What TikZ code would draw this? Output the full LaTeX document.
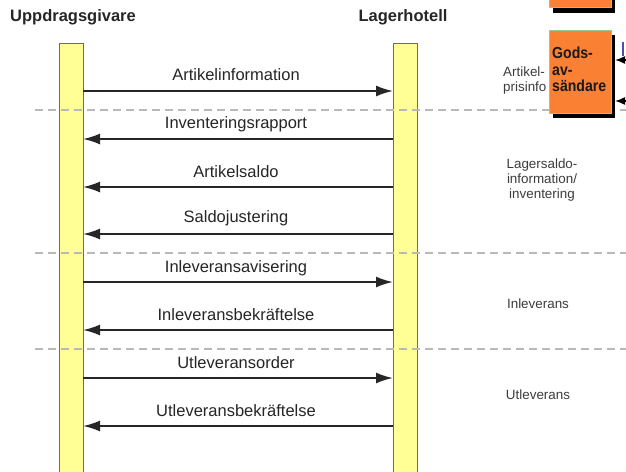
\documentclass[tikz,border=0pt]{standalone}
\usepackage{fontspec}
\setmainfont{Liberation Sans}
\newfontfamily\narrowbold[FakeStretch=0.88]{Liberation Sans Bold}
\usetikzlibrary{arrows.meta}
\definecolor{baryellow}{RGB}{255,255,150}
\definecolor{barborder}{RGB}{110,110,80}
\definecolor{dashgray}{RGB}{185,185,185}
\definecolor{boxorange}{RGB}{250,128,52}
\definecolor{boxborder}{RGB}{150,200,150}
\definecolor{labelgray}{RGB}{60,60,60}
\tikzset{
  lifebar/.style={draw=barborder, line width=0.8pt, fill=baryellow},
  msg/.style={line width=2pt, draw=black!85, -{Latex[length=17pt,width=11pt]}},
  msglabel/.style={font=\fontsize{16.5}{18}\selectfont, text=black!85, inner sep=0pt},
  header/.style={font=\bfseries\fontsize{16.5}{18}\selectfont, text=black!85, inner sep=0pt},
  phase/.style={font=\fontsize{13.4}{15}\selectfont, text=labelgray, align=center, inner sep=0pt},
  sep/.style={draw=dashgray, line width=1.6pt, dash pattern=on 8pt off 5pt},
  actor/.style={draw=boxborder, line width=0.8pt, fill=boxorange},
  shadowbox/.style={fill=black},
  inarrow/.style={line width=1.5pt, draw=black, -{Latex[length=10pt,width=8pt]}},
  actortext/.style={font=\narrowbold\fontsize{16}{16.5}\selectfont, text=black!90, align=left, anchor=north west, inner sep=0pt}
}
\begin{document}
\begin{tikzpicture}[x=1pt,y=-1pt]
\useasboundingbox (0,0) rectangle (626,471);
\fill[white] (0,0) rectangle (626,471);

% headers
\node[header] (hU) at (73,17) {Uppdragsgivare};
\node[header] (hL) at (403,17) {Lagerhotell};

% lifelines
\draw[lifebar] (59,43) rectangle (83,475);
\draw[lifebar] (393,43) rectangle (417,475);
\coordinate (L91) at (83,91);   \coordinate (R91) at (393,91);
\coordinate (L139) at (83,139); \coordinate (R139) at (393,139);
\coordinate (L187) at (83,187); \coordinate (R187) at (393,187);
\coordinate (L234) at (83,234); \coordinate (R234) at (393,234);
\coordinate (L282) at (83,282); \coordinate (R282) at (393,282);
\coordinate (L330) at (83,330); \coordinate (R330) at (393,330);
\coordinate (L378) at (83,378); \coordinate (R378) at (393,378);
\coordinate (L426) at (83,426); \coordinate (R426) at (393,426);

% separators
\coordinate (s1a) at (35,110); \coordinate (s1b) at (630,110);
\coordinate (s2a) at (35,253); \coordinate (s2b) at (630,253);
\coordinate (s3a) at (35,349); \coordinate (s3b) at (630,349);
\draw[sep] (s1a) -- (s1b);
\draw[sep] (s2a) -- (s2b);
\draw[sep] (s3a) -- (s3b);

% messages
\draw[msg] (L91) -- (R91);
\node[msglabel] (m1) at (236,75) {Artikelinformation};
\draw[msg] (R139) -- (L139);
\node[msglabel] (m2) at (236,124) {Inventeringsrapport};
\draw[msg] (R187) -- (L187);
\node[msglabel] (m3) at (236,172) {Artikelsaldo};
\draw[msg] (R234) -- (L234);
\node[msglabel] (m4) at (236,218) {Saldojustering};
\draw[msg] (L282) -- (R282);
\node[msglabel] (m5) at (236,268) {Inleveransavisering};
\draw[msg] (R330) -- (L330);
\node[msglabel] (m6) at (236,315) {Inleveransbekräftelse};
\draw[msg] (L378) -- (R378);
\node[msglabel] (m7) at (236,363) {Utleveransorder};
\draw[msg] (R426) -- (L426);
\node[msglabel] (m8) at (236,411) {Utleveransbekräftelse};

% phase labels
\node[phase, align=left, anchor=north west] (p1) at (503,67) {Artikel-\\prisinfo};
\node[phase] (p2) at (542,180) {Lagersaldo-\\information/\\inventering};
\node[phase] (p3) at (538,304) {Inleverans};
\node[phase] (p4) at (538,395) {Utleverans};

% top orange box (cut off)
\fill[shadowbox] (553,-10) rectangle (615,13);
\draw[actor] (549,-10) rectangle (611,7);

% Gods-avsaendare box
\fill[shadowbox] (553,35) rectangle (615,118);
\draw[actor] (549,30) rectangle (611,113);
\node[actortext] (gods) at (552,47) {Gods-\\av-\\sändare};

% incoming arrows on the right edge
\coordinate (in1) at (640,60);
\coordinate (in2) at (640,101);
\draw[inarrow] (in1) -- (615,60);
\draw[inarrow] (in2) -- (615,101);
\coordinate (bl1) at (623,42); \coordinate (bl2) at (623,56);
\draw[line width=1.5pt, draw=blue!60!black!70] (bl1) -- (bl2);
\end{tikzpicture}
\end{document}
